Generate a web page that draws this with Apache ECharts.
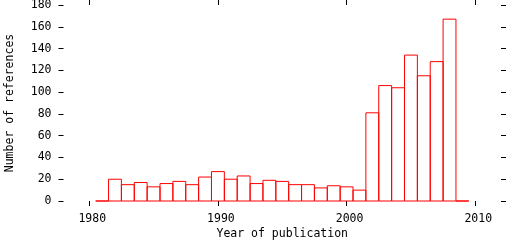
<!DOCTYPE html>
<html><head><meta charset="utf-8">
<script src="https://cdn.jsdelivr.net/npm/echarts@6/dist/echarts.min.js"></script>
<style>html,body{margin:0;padding:0;background:#fff}#c{width:512px;height:240px}</style>
</head><body><div id="c"></div>
<script>
const years = [1981,1982,1983,1984,1985,1986,1987,1988,1989,1990,1991,1992,1993,1994,1995,1996,1997,1998,1999,2000,2001,2002,2003,2004,2005,2006,2007,2008,2009];
const counts = [0,20,15,17,13,16,18,15,22,27,20,23,16,19,18,15,15,12,14,13,10,81,106,104,134,115,128,167,0];
const xTicks = [1980,1990,2000,2010];
const xLabel = 'Year of publication';
const yLabel = 'Number of references';

const font = 'DejaVu Sans Mono';
const fs = 11.5;
const chart = echarts.init(document.getElementById('c'), null, {renderer:'canvas'});
const tickStyle = {color:'#000', width:1};
chart.setOption({
  animation:false,
  backgroundColor:'#fff',
  grid:{left:63.5, right:11, top:5, bottom:39, containLabel:false, outerBoundsMode:'none'},
  xAxis:[{
    type:'value', min:1978, max:2012, position:'bottom',
    name:xLabel, nameLocation:'middle', nameGap:27, nameMoveOverlap:false,
    nameTextStyle:{fontFamily:font, fontSize:fs, color:'#000'},
    axisLine:{show:false, onZero:false}, splitLine:{show:false},
    axisTick:{show:true, inside:false, length:5, lineStyle:tickStyle, customValues:xTicks},
    axisLabel:{show:true, margin:12, fontFamily:font, fontSize:fs, color:'#000', customValues:xTicks, padding:[0,0,0,6], formatter:v=>String(v)}
  },{
    type:'value', min:1978, max:2012, position:'top',
    axisLine:{show:false, onZero:false}, splitLine:{show:false},
    axisTick:{show:true, inside:false, length:5, lineStyle:tickStyle, customValues:xTicks},
    axisLabel:{show:false}
  }],
  yAxis:[{
    type:'value', min:0, max:180, interval:20, position:'left',
    name:yLabel, nameLocation:'middle', nameGap:47, nameMoveOverlap:false,
    nameTextStyle:{fontFamily:font, fontSize:fs, color:'#000'},
    axisLine:{show:false, onZero:false}, splitLine:{show:false},
    axisTick:{show:true, inside:false, length:5, lineStyle:tickStyle},
    axisLabel:{show:true, margin:12, fontFamily:font, fontSize:fs, color:'#000'}
  },{
    type:'value', min:0, max:180, interval:20, position:'right',
    axisLine:{show:false, onZero:false}, splitLine:{show:false},
    axisTick:{show:true, inside:false, length:5, lineStyle:tickStyle},
    axisLabel:{show:false}
  }],
  series:[{
    type:'custom',
    xAxisIndex:0, yAxisIndex:0,
    data: years.map((y,i)=>[y, counts[i]]),
    renderItem:function(params, api){
      const x = api.value(0), v = api.value(1);
      const p0 = api.coord([x-0.5, v]);
      const p1 = api.coord([x+0.5, 0]);
      return {
        type:'rect',
        shape:{x:p0[0], y:p0[1], width:p1[0]-p0[0], height:p1[1]-p0[1]},
        style:{fill:null, stroke:'#ff0000', lineWidth:1}
      };
    }
  }]
});
</script></body></html>
